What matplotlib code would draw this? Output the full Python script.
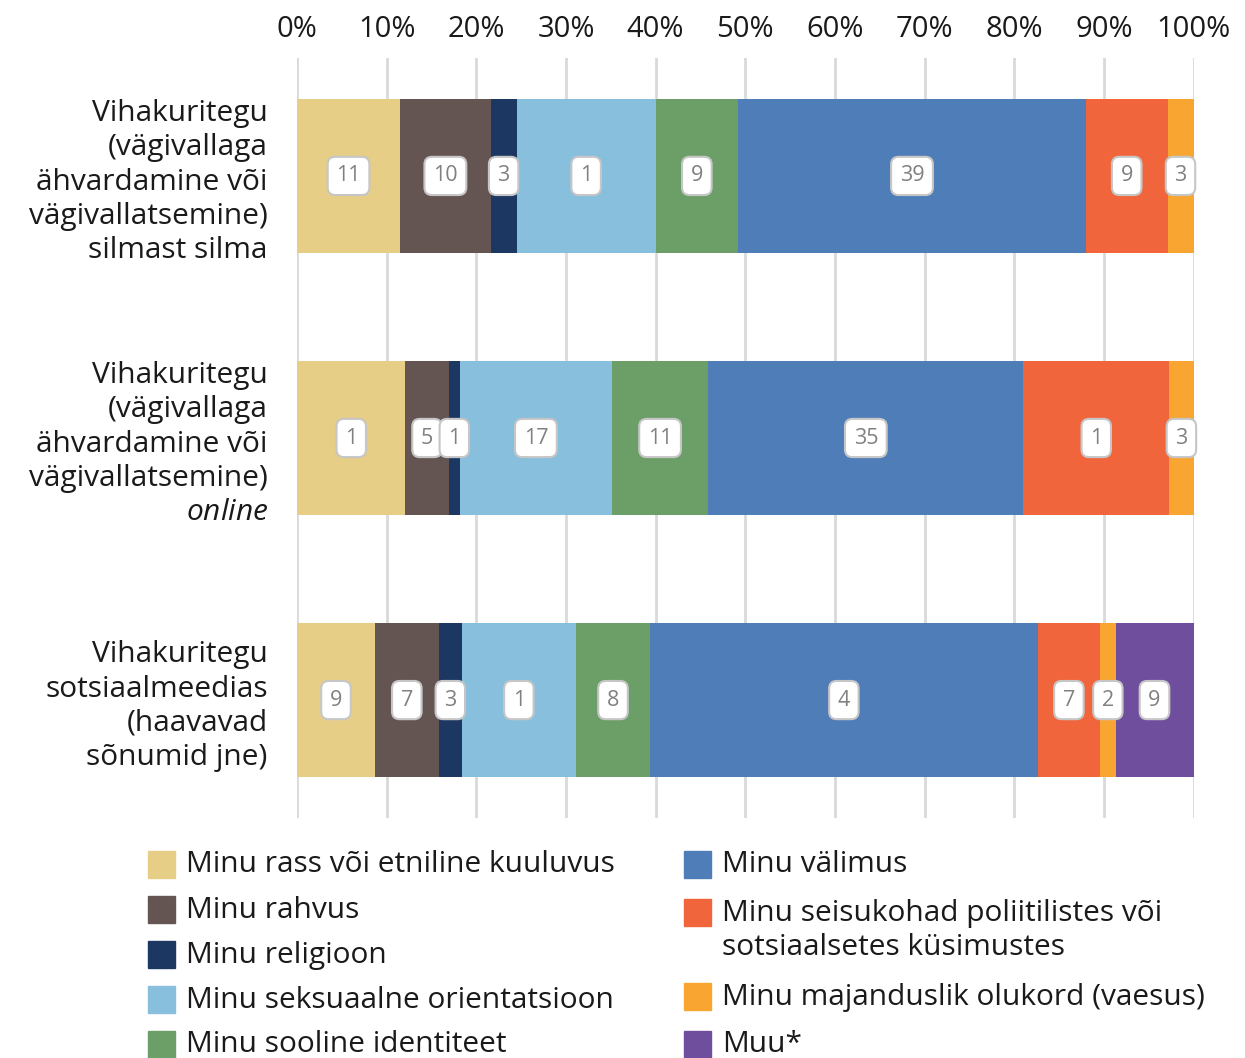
import numpy as np
import matplotlib.pyplot as plt
from matplotlib.patches import Rectangle

plt.rcParams['font.family'] = ['Open Sans', 'DejaVu Sans']
plt.rcParams['mathtext.fontset'] = 'custom'
plt.rcParams['mathtext.rm'] = 'Open Sans'
plt.rcParams['mathtext.it'] = 'Open Sans:italic'

# categories (top to bottom)
categories = [
    "Vihakuritegu\n(vägivallaga\nähvardamine või\nvägivallatsemine)\nsilmast silma",
    "Vihakuritegu\n(vägivallaga\nähvardamine või\nvägivallatsemine)\n$\\mathit{online}$",
    "Vihakuritegu\nsotsiaalmeedias\n(haavavad\nsõnumid jne)",
]

series = [
    "Minu rass või etniline kuuluvus",
    "Minu rahvus",
    "Minu religioon",
    "Minu seksuaalne orientatsioon",
    "Minu sooline identiteet",
    "Minu välimus",
    "Minu seisukohad poliitilistes või\nsotsiaalsetes küsimustes",
    "Minu majanduslik olukord (vaesus)",
    "Muu*",
]
colors = ["#E6CE87", "#655552", "#1C3761", "#87BFDD", "#6C9E67",
          "#4F7DB7", "#F1653C", "#F9A531", "#6F4E9E"]

# shares (%) per row, in series order
row_face = [11.5, 10.1, 2.9, 15.5, 9.2, 38.8, 9.1, 2.9, 0]
row_online = [12.1, 4.8, 1.3, 16.9, 10.8, 35.1, 16.3, 2.7, 0]
row_social = [8.7, 7.1, 2.6, 12.7, 8.3, 43.2, 7.0, 1.7, 8.7]

# value labels as printed in the boxes
labels_face = ["11", "10", "3", "1", "9", "39", "9", "3", None]
labels_online = ["1", "5", "1", "17", "11", "35", "1", "3", None]
labels_social = ["9", "7", "3", "1", "8", "4", "7", "2", "9"]

shares = np.array([row_face, row_online, row_social])
box_labels = [labels_face, labels_online, labels_social]

W, H = 1245, 1058
fig = plt.figure(figsize=(W / 100, H / 100), dpi=100)
ax = fig.add_axes([297 / W, 1 - 818 / H, (1193.5 - 297) / W, (818 - 58) / H])

y = np.arange(len(categories))
left = np.zeros(len(categories))
for j, name in enumerate(series):
    w = shares[:, j]
    ax.barh(y, w, left=left, height=0.587, color=colors[j], zorder=2)
    for i in range(len(categories)):
        lab = box_labels[i][j]
        if lab:
            ax.text(left[i] + w[i] / 2, y[i], lab, ha='center', va='center',
                    fontsize=15.5, color='#808080', zorder=4,
                    bbox=dict(boxstyle='round,pad=0.4,rounding_size=0.35',
                              fc='white', ec='#c6c6c6', lw=1.5))
    left += w

ax.set_xlim(0, 100)
ax.set_ylim(2.45, -0.45)
ax.xaxis.tick_top()
ax.set_xticks(range(0, 101, 10))
ax.set_xticklabels([f"{t}%" for t in range(0, 101, 10)])
ax.tick_params(axis='x', length=0, pad=10, labelsize=21, colors='#1a1a1a')
ax.set_yticks(y)
ax.set_yticklabels(categories, fontsize=21.5, linespacing=1.24, color='#1a1a1a')
ax.tick_params(axis='y', length=0, pad=21)
ax.grid(axis='x', color='#d9d9d9', lw=2, zorder=0)
for s in ax.spines.values():
    s.set_visible(False)

# legend, drawn by hand in two columns
legend_pos = [(148, 865), (148, 910), (148, 955), (148, 1000), (148, 1045),
              (684, 865), (684, 913), (684, 997), (684, 1045)]
for (px, py), name, c in zip(legend_pos, series, colors):
    fig.add_artist(Rectangle((px / W, 1 - (py + 13) / H), 27 / W, 27 / H,
                             transform=fig.transFigure, color=c))
    ty = py + 17.5 if '\n' in name else py
    fig.text((px + 38) / W, 1 - ty / H, name, fontsize=21.5, color='#1a1a1a',
             ha='left', va='center', linespacing=1.24)

fig.savefig("out.png", dpi=100)
